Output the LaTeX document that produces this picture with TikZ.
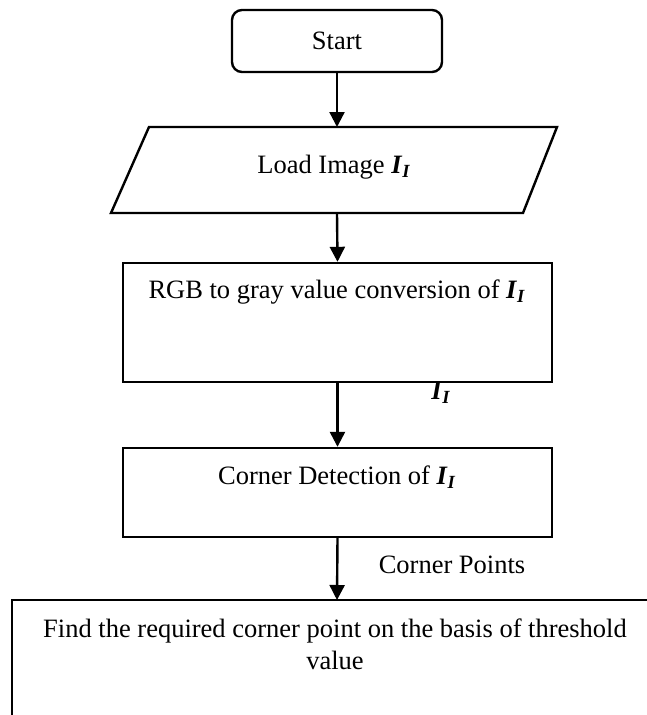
\documentclass[tikz,border=0pt]{standalone}
\usepackage{fontspec}
\setmainfont{Liberation Serif}
\usetikzlibrary{arrows.meta}
\newcommand{\II}{\textbf{\textit{I}}\textsubscript{\textbf{\textit{I}}}}
\begin{document}
\begin{tikzpicture}[x=1pt,y=-1pt,
  font=\fontsize{26.5}{32}\selectfont,
  line width=2.4pt,
  arr/.style={-{Triangle[length=15pt,width=15pt]}},
  box/.style={draw, inner sep=0pt}]
\useasboundingbox (0,0) rectangle (647,715);

\node[box, rounded corners=10pt, minimum width=210pt, minimum height=62pt] (start) at (337,41) {Start};

\coordinate (ptop) at (337,127);
\coordinate (pbot) at (337,213);
\draw (149,127) -- (557,127) -- (523,213) -- (111,213) -- cycle;
\node (load) at (334,167) {Load Image \II};

\node[box, minimum width=429pt, minimum height=119pt] (rgb) at (337.5,322.5) {};
\node (rgbtext) at (337,292) {RGB to gray value conversion of \II};

\node (lbl) at (441,393) {\II};

\node[box, minimum width=429pt, minimum height=89pt] (corner) at (337.5,492.5) {};
\node (cornertext) at (337,477) {Corner Detection of \II};

\node (cp) at (452,565) {Corner Points};

\coordinate (ftop) at (337,600);
\draw (647,600) -- (12,600) -- (12,715);
\node[align=center] (findtext) at (335,644) {Find the required corner point on the basis of threshold\\value};

\draw[arr] (start.south) -- (ptop);
\draw[arr] (pbot) -- (rgb.north);
\draw[arr] (rgb.south) -- (corner.north);
\draw[arr] (corner.south) -- (ftop);
\end{tikzpicture}
\end{document}
